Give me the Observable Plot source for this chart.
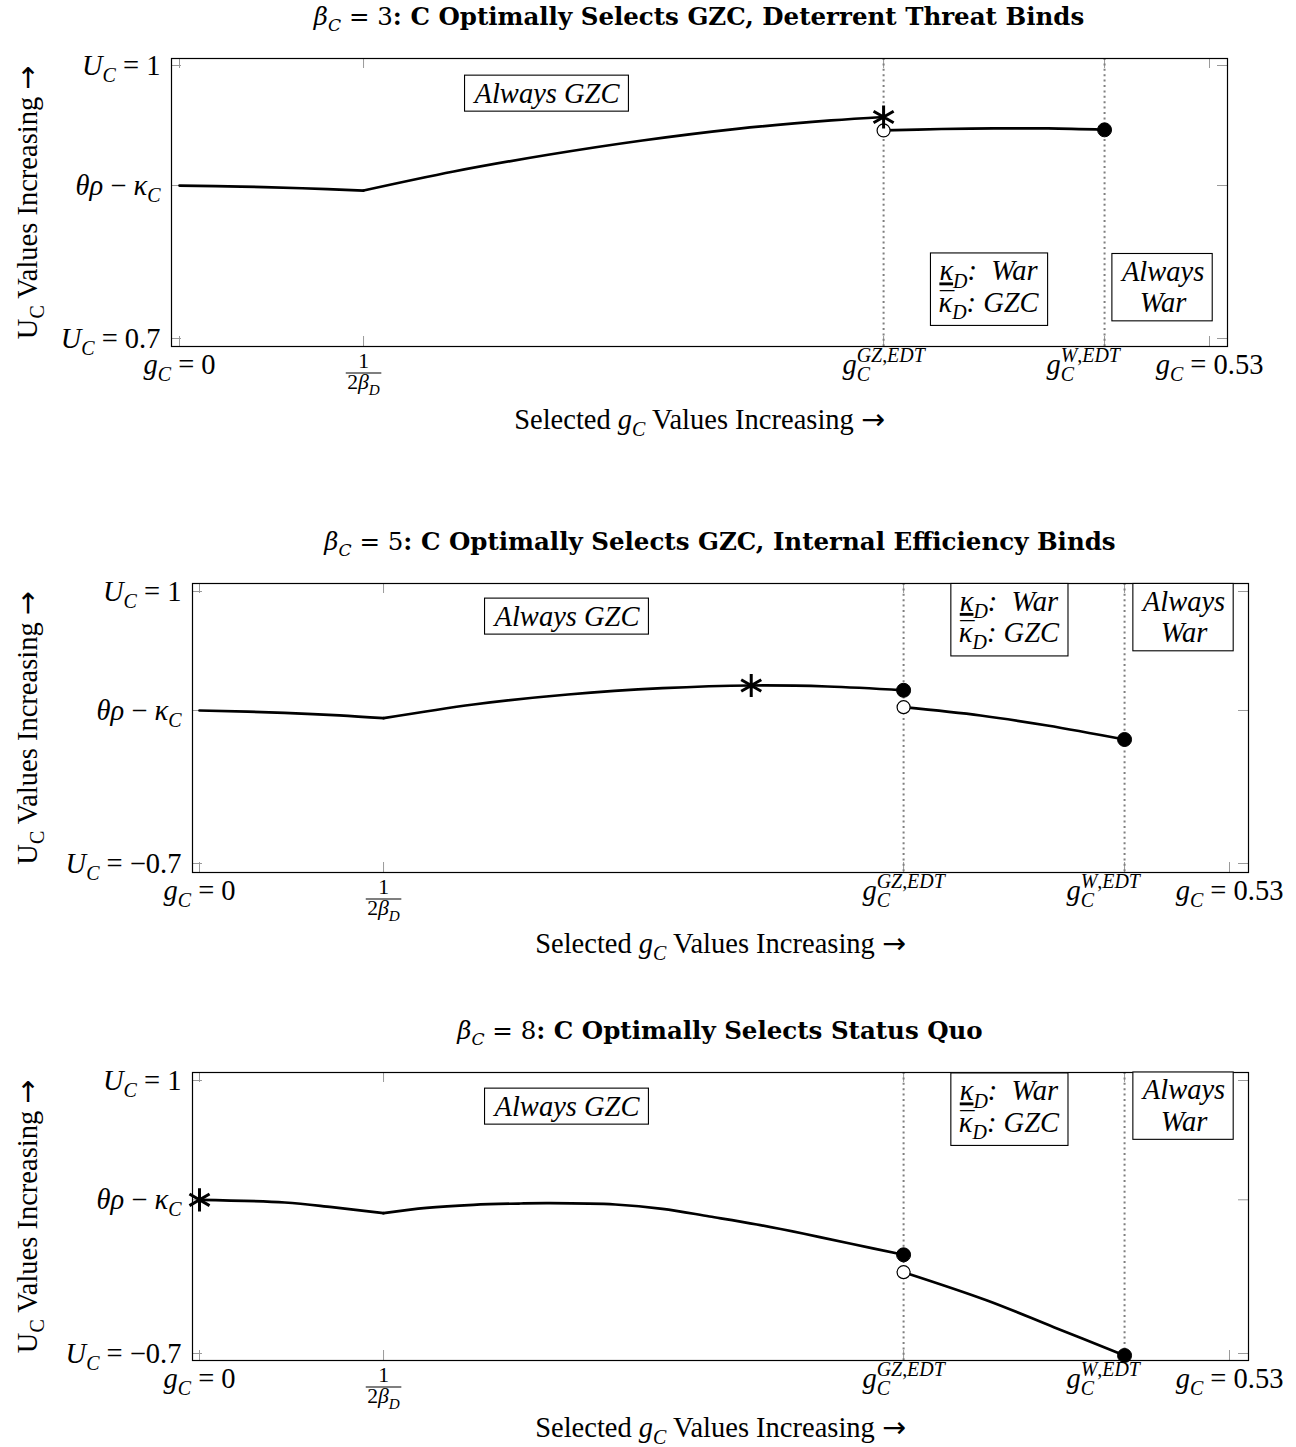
<!DOCTYPE html>
<html><head><meta charset="utf-8">
<script src="https://cdn.jsdelivr.net/npm/d3@7"></script>
<script src="https://cdn.jsdelivr.net/npm/@observablehq/plot@0.6"></script>
<style>
html,body{margin:0;padding:0;background:#fff;}
#page{position:relative;width:1296px;height:1447px;overflow:hidden;font-family:"Liberation Serif",serif;color:#000;background:#fff;}
.panel{position:absolute;left:0;}
.panel svg{overflow:visible;}
.title{position:absolute;text-align:center;font-weight:bold;white-space:nowrap;line-height:1;font-family:"DejaVu Serif",serif;}
</style></head><body><div id="page"></div>
<script>
// ---------- data ----------
const xTickValues = [0, 0.0947, 0.3623, 0.476, 0.53];
const xTickLabels = ["$g_C = 0$", "$\\frac{1}{2β_D}$", "$g_C^{GZ,EDT}$", "$g_C^{W,EDT}$\u00a0\u00a0\u00a0\u00a0\u00a0\u00a0", "$g_C = 0.53$"];
const thresholds = [0.3623, 0.476];

const titles = [
  "$β_C = 3$: C Optimally Selects GZC, Deterrent Threat Binds",
  "$β_C = 5$: C Optimally Selects GZC, Internal Efficiency Binds",
  "$β_C = 8$: C Optimally Selects Status Quo"
];
const yAxisLabel = "U_C Values Increasing →";
const xAxisLabel = "Selected $g_C$ Values Increasing →";

const yTicks1 = [1, 0.8681, 0.7];
const yTicks2 = [1, 0.2563, -0.7];
const yTicks3 = [1, 0.2571, -0.7];
const yLabels1 = ["$U_C = 1$", "$θρ − κ_C$", "$U_C = 0.7$"];
const yLabels23 = ["$U_C = 1$", "$θρ − κ_C$", "$U_C = −0.7$"];

const boxLabels = ["Always GZC", "$κ\u0332_D$:  War|$κ\u0304_D$: GZC", "Always|War"];

// panel 1 (beta_C = 3)
const p1SegA = [[0,0.8681],[0.0316,0.8670],[0.0632,0.8651],[0.0947,0.8626]];
const p1SegB = [[0.0947,0.8626],[0.1411,0.8835],[0.1897,0.9019],[0.2382,0.9176],[0.2868,0.9304],[0.3353,0.9396],[0.3623,0.9434]];
const p1SegC = [[0.3623,0.9286],[0.392,0.9302],[0.4189,0.9308],[0.447,0.9308],[0.476,0.9293]];
const p1Star = [[0.3623,0.9434]];
const p1Open = [[0.3623,0.9286]];
const p1Filled = [[0.476,0.9293]];
const p1BoxG = [0.1891, 0.4163, 0.5061];
const p1BoxU = [0.9692, 0.7566, 0.756];

// panel 2 (beta_C = 5)
const p2SegA = [[0,0.2563],[0.0437,0.2419],[0.072,0.2263],[0.0947,0.2081]];
const p2SegB = [[0.0947,0.2081],[0.141,0.2938],[0.1896,0.3563],[0.2382,0.3956],[0.2839,0.4125],[0.3231,0.4063],[0.3623,0.3825]];
const p2SegC = [[0.3623,0.2769],[0.4019,0.225],[0.4362,0.1625],[0.476,0.075]];
const p2Star = [[0.2839,0.4125]];
const p2Open = [[0.3623,0.2769]];
const p2Filled = [[0.3623,0.3825],[0.476,0.075]];
const p2BoxG = [0.1891, 0.4165, 0.5066];
const p2BoxU = [0.8438, 0.8375, 0.8375];

// panel 3 (beta_C = 8)
const p3SegA = [[0,0.2571],[0.0439,0.2403],[0.0682,0.2110],[0.0947,0.1737]];
const p3SegB = [[0.0947,0.1737],[0.1168,0.2073],[0.141,0.2260],[0.1653,0.2341],[0.1799,0.2360],[0.2139,0.2279],[0.2382,0.2011],[0.2625,0.1531],[0.2868,0.1033],[0.3111,0.0454],[0.3353,-0.0169],[0.3623,-0.0854]];
const p3SegC = [[0.3623,-0.1937],[0.4053,-0.3699],[0.4396,-0.5362],[0.476,-0.7125]];
const p3Star = [[0,0.2571]];
const p3Open = [[0.3623,-0.1937]];
const p3Filled = [[0.3623,-0.0854],[0.476,-0.7125]];
const p3BoxG = [0.1891, 0.4165, 0.5066];
const p3BoxU = [0.838, 0.835, 0.841];

// ---------- rich text helpers ----------
const SVGNS = "http://www.w3.org/2000/svg";
const COMB = {"\u0304": "bar", "\u0332": "under"};
const isMathLetter = c => /[A-Za-z\u0370-\u03FF]/.test(c);
function parseLine(line) {
  const runs = [];
  let math = false, i = 0;
  const chars = Array.from(line);
  const push = (c, lvl, acc) => {
    const it = math && isMathLetter(c);
    const sym = c === "→";
    const last = runs[runs.length - 1];
    if (!acc && !sym && last && !last.acc && !last.sym && last.it === it && last.lvl === lvl && last.math === math) last.t += c;
    else runs.push({t: c, it, lvl, math, acc, sym});
  };
  while (i < chars.length) {
    const c = chars[i];
    if (c === "$") { math = !math; i++; continue; }
    if (c === "_" || c === "^") {
      const lvl = c === "_" ? -1 : 1; i++;
      const content = [];
      if (chars[i] === "{") { i++; while (i < chars.length && chars[i] !== "}") content.push(chars[i++]); i++; }
      else content.push(chars[i++]);
      content.forEach(ch => push(ch, lvl));
      continue;
    }
    if (COMB[chars[i + 1]]) { push(c, 0, COMB[chars[i + 1]]); i += 2; continue; }
    push(c, 0); i++;
  }
  return runs;
}
function writeLine(t, runs, fs, baseY) {
  let cur = 0, lastLvl = 0, subGroup = [], width = 0, maxW = 0, pendingDx = 0;
  runs.forEach((r, ri) => {
    const ts = document.createElementNS(SVGNS, "tspan");
    ts.textContent = r.t;
    const target = baseY + (r.lvl === -1 ? 0.25 * fs : r.lvl === 1 ? -0.42 * fs : 0);
    if (ri === 0) { ts.setAttribute("x", 0); ts.setAttribute("y", target.toFixed(2)); }
    else if (Math.abs(target - cur) > 1e-6) ts.setAttribute("dy", (target - cur).toFixed(2));
    cur = target;
    ts.setAttribute("font-size", ((r.lvl ? 0.7 : 1) * fs).toFixed(2));
    if (r.math) { ts.setAttribute("font-style", r.it ? "italic" : "normal"); ts.setAttribute("font-weight", "normal"); }
    if (r.sym) { ts.setAttribute("font-family", "'DejaVu Sans', sans-serif"); ts.setAttribute("font-style", "normal"); }
    if (r.acc === "under") ts.style.textDecoration = "underline";
    t.appendChild(ts);
    let dx = pendingDx; pendingDx = 0;
    const w = ts.getComputedTextLength();
    if (r.lvl === 1 && lastLvl === -1) {
      const sw = subGroup.reduce((a, s) => a + s.getComputedTextLength(), 0);
      dx -= sw; width -= sw;
      subGroup = [];
    } else if (r.lvl === -1) {
      if (lastLvl !== -1) subGroup = [];
      subGroup.push(ts);
    } else subGroup = [];
    if (dx) ts.setAttribute("dx", dx.toFixed(2));
    if (r.acc === "bar") {
      const a = document.createElementNS(SVGNS, "tspan");
      a.textContent = "\u00af";
      a.setAttribute("font-size", fs.toFixed(2));
      a.setAttribute("font-style", "normal");
      t.appendChild(a);
      const aw = a.getComputedTextLength();
      const off = 0.06 * fs;
      a.setAttribute("dx", (-(w + aw) / 2 + off).toFixed(2));
      pendingDx = (w - aw) / 2 - off;
    }
    width += w; maxW = Math.max(maxW, width);
    lastLvl = r.lvl;
  });
  return maxW;
}
function renderRich(t, src) {
  const fs = parseFloat(getComputedStyle(t).fontSize) || 27;
  const yAttr = t.getAttribute("y");
  const y0 = yAttr ? parseFloat(yAttr) * (yAttr.endsWith("em") ? fs : 1) : 0;
  t.removeAttribute("y");
  while (t.firstChild) t.removeChild(t.firstChild);
  const frac = src.match(/^\$\\frac\{(.*?)\}\{(.*?)\}\$$/);
  if (frac) {
    const ff = 0.76 * fs;
    const wN = writeLine(t, parseLine("$" + frac[1] + "$"), ff, 0.52 * fs);
    const wD = writeLine(t, parseLine("$" + frac[2] + "$"), ff, 1.26 * fs);
    const w = Math.max(wN, wD) + 3;
    const ln = document.createElementNS(SVGNS, "line");
    ln.setAttribute("x1", -w / 2); ln.setAttribute("x2", w / 2);
    ln.setAttribute("y1", 0.69 * fs); ln.setAttribute("y2", 0.69 * fs);
    ln.setAttribute("stroke", "black"); ln.setAttribute("stroke-width", "1.1");
    if (t.getAttribute("transform")) ln.setAttribute("transform", t.getAttribute("transform"));
    t.parentNode.appendChild(ln);
    return;
  }
  const lines = src.split("|");
  const n = lines.length, L = 1.1 * fs;
  lines.forEach((line, li) => writeLine(t, parseLine(line), fs, y0 + (li - (n - 1) / 2) * L));
}
function addBox(t, padX, padY) {
  const b = t.getBBox();
  const r = document.createElementNS(SVGNS, "rect");
  r.setAttribute("x", b.x - padX); r.setAttribute("y", b.y - padY);
  r.setAttribute("width", b.width + 2 * padX); r.setAttribute("height", b.height + 2 * padY);
  r.setAttribute("fill", "white"); r.setAttribute("stroke", "black"); r.setAttribute("stroke-width", "1.1");
  if (t.getAttribute("transform")) r.setAttribute("transform", t.getAttribute("transform"));
  t.parentNode.insertBefore(r, t);
}
function htmlTitle(src, fs, centerX, baseline) {
  const div = document.createElement("div");
  div.className = "title";
  div.style.fontSize = fs + "px";
  div.style.left = (centerX - 640) + "px";
  div.style.width = "1280px";
  div.style.top = (baseline - 0.93 * fs) + "px";
  parseLine(src).forEach(r => {
    const s = document.createElement("span");
    s.textContent = r.t;
    if (r.math) { s.style.fontStyle = r.it ? "italic" : "normal"; s.style.fontWeight = "normal"; }
    if (r.lvl) { s.style.fontSize = (0.7 * fs) + "px"; s.style.verticalAlign = (r.lvl === -1 ? -0.25 * fs : 0.42 * fs) + "px"; }
    div.appendChild(s);
  });
  return div;
}

// ---------- panels ----------
const FS = 28.5;
const xLabelMap = new Map(xTickValues.map((v, i) => [v, xTickLabels[i]]));
const RICH = new Set([...xTickLabels, ...yLabels1, ...yLabels23, yAxisLabel, xAxisLabel, ...boxLabels]);
const BOXES = new Set(boxLabels);

const panels = [
  {top: 40, h: 410, mt: 18, mb: 104, ml: 171, mr: 69, xi: [8, 18], yi: [7, 8], xdy: 82, yTicks: yTicks1, yLabels: yLabels1,
   segs: [p1SegA, p1SegB, p1SegC], star: p1Star, open: p1Open, filled: p1Filled, boxG: p1BoxG, boxU: p1BoxU, title: titles[0], tBase: 28},
  {top: 565, h: 400, mt: 18, mb: 93, ml: 192, mr: 48, xi: [7, 19], yi: [8, 9], xdy: 80, yTicks: yTicks2, yLabels: yLabels23,
   segs: [p2SegA, p2SegB, p2SegC], star: p2Star, open: p2Open, filled: p2Filled, boxG: p2BoxG, boxU: p2BoxU, title: titles[1], tBase: 553},
  {top: 1054, h: 393, mt: 18, mb: 87, ml: 192, mr: 48, xi: [7, 19], yi: [8, 7], xdy: 76, yTicks: yTicks3, yLabels: yLabels23,
   segs: [p3SegA, p3SegB, p3SegC], star: p3Star, open: p3Open, filled: p3Filled, boxG: p3BoxG, boxU: p3BoxU, title: titles[2], tBase: 1042}
];

const page = document.getElementById("page");
panels.forEach(p => {
  const frameW = 1296 - p.ml - p.mr, frameH = p.h - p.mt - p.mb, tickLen = 10;
  const yMap = new Map(p.yTicks.map((v, i) => [v, p.yLabels[i]]));
  const boxes = boxLabels.map((label, i) => ({g: p.boxG[i], u: p.boxU[i], label}));
  const svg = Plot.plot({
    width: 1296, height: p.h,
    marginTop: p.mt, marginBottom: p.mb, marginLeft: p.ml, marginRight: p.mr,
    x: {domain: [0, 0.53], insetLeft: p.xi[0], insetRight: p.xi[1]},
    y: {domain: [p.yTicks[2], 1], insetTop: p.yi[0], insetBottom: p.yi[1]},
    style: {fontFamily: "'Liberation Serif', serif", fontSize: FS + "px", color: "black", background: "transparent", overflow: "visible"},
    marks: [
      Plot.ruleX(xTickValues, {insetTop: frameH - tickLen, stroke: "#9a9a9a"}),
      Plot.ruleX(xTickValues, {insetBottom: frameH - tickLen, stroke: "#9a9a9a"}),
      Plot.ruleY(p.yTicks, {insetRight: frameW - tickLen, stroke: "#9a9a9a"}),
      Plot.ruleY(p.yTicks, {insetLeft: frameW - tickLen, stroke: "#9a9a9a"}),
      Plot.ruleX(thresholds, {stroke: "#7f7f7f", strokeWidth: 2, strokeDasharray: "2 3.4"}),
      Plot.frame({stroke: "black", strokeWidth: 1.2}),
      ...p.segs.map(s => Plot.line(s, {curve: "catmull-rom", stroke: "black", strokeWidth: 2.7})),
      Plot.dot(p.filled, {r: 7, fill: "black", stroke: "black", strokeWidth: 1}),
      Plot.dot(p.open, {r: 6.5, fill: "white", stroke: "black", strokeWidth: 1.2}),
      Plot.dot(p.star, {symbol: "asterisk", r: 11, stroke: "black", strokeWidth: 3}),
      Plot.text(boxes, {x: "g", y: "u", text: "label", fontStyle: "italic", fontSize: FS}),
      Plot.axisX(xTickValues, {anchor: "bottom", tickSize: 0, tickPadding: 6.8, tickFormat: d => xLabelMap.get(d), fontSize: FS, label: null}),
      Plot.axisY(p.yTicks, {anchor: "left", tickSize: 0, tickPadding: 11, tickFormat: d => yMap.get(d), fontSize: FS, label: null}),
      Plot.text([yAxisLabel], {frameAnchor: "left", dx: 27 - p.ml, rotate: -90, textAnchor: "middle", fontSize: FS}),
      Plot.text([xAxisLabel], {frameAnchor: "bottom", dy: p.xdy, lineAnchor: "bottom", textAnchor: "middle", fontSize: FS})
    ]
  });
  const wrap = document.createElement("div");
  wrap.className = "panel";
  wrap.style.top = p.top + "px";
  wrap.appendChild(svg);
  page.appendChild(wrap);
  svg.querySelectorAll("text").forEach(t => {
    const src = t.textContent;
    if (RICH.has(src)) {
      renderRich(t, src);
      if (BOXES.has(src)) addBox(t, 8, 2.5);
    }
  });
  page.appendChild(htmlTitle(p.title, 24.5, p.ml + frameW / 2, p.tBase));
});
</script></body></html>
